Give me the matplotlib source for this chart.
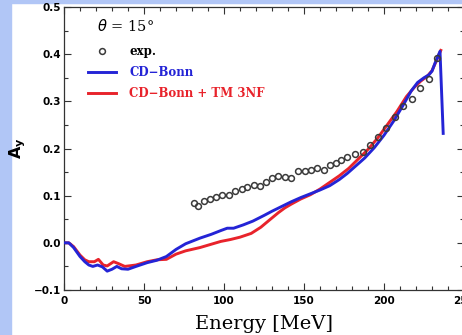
import matplotlib
matplotlib.use("Agg")
import matplotlib.pyplot as plt
from matplotlib.patches import Rectangle
from matplotlib.ticker import MultipleLocator

# experimental points (energy in MeV, A_y)
exp_e = [81.5, 83.5, 87.5, 91, 95, 99, 103, 107, 111, 114.5, 118.5, 122.5,
         126.5, 130, 134, 138, 142, 146.5, 150.5, 154.5, 158, 162.5, 166.5,
         170, 173, 177, 182, 187, 191, 196.5, 201.5, 207, 212, 217.5, 222.5,
         228, 233]
exp_ay = [0.085, 0.078, 0.088, 0.093, 0.097, 0.101, 0.102, 0.110, 0.114,
          0.119, 0.123, 0.120, 0.130, 0.138, 0.142, 0.140, 0.138, 0.153,
          0.152, 0.155, 0.158, 0.155, 0.164, 0.170, 0.176, 0.181, 0.189,
          0.193, 0.208, 0.225, 0.243, 0.266, 0.290, 0.306, 0.328, 0.347,
          0.391]

# CD-Bonn
cdb_e = [0, 3, 6, 10, 13, 15.5, 18, 21, 24, 27, 30, 33, 36, 40, 45, 52, 58,
         64, 70, 76, 85, 92, 98, 102, 106, 112, 118, 125, 130, 136, 142, 148,
         154, 160, 166, 172, 177, 182, 188, 194, 200, 206, 212, 217, 221, 225,
         228, 230, 232, 235, 237]
cdb_ay = [0.0, 0.0, -0.01, -0.029, -0.040, -0.047, -0.050, -0.047, -0.051,
          -0.060, -0.056, -0.050, -0.055, -0.056, -0.050, -0.042, -0.037,
          -0.029, -0.014, -0.002, 0.010, 0.018, 0.026, 0.031, 0.031, 0.038,
          0.046, 0.058, 0.067, 0.077, 0.087, 0.096, 0.104, 0.112, 0.121,
          0.134, 0.147, 0.162, 0.180, 0.202, 0.228, 0.258, 0.292, 0.322,
          0.340, 0.350, 0.356, 0.364, 0.382, 0.406, 0.232]

# CD-Bonn + TM 3NF
tm_e = [0, 3, 6, 10, 13, 15.5, 19, 21.5, 24.5, 27, 31, 34, 38, 45, 52, 58,
        64, 70, 76, 85, 92, 98, 104, 110, 117, 123, 129, 134, 138, 142, 148,
        154, 160, 166, 172, 178, 184, 190, 196, 202, 208, 214, 219, 223, 227,
        230, 233, 235.5]
tm_ay = [0.0, 0.0, -0.008, -0.026, -0.036, -0.040, -0.040, -0.035, -0.047,
         -0.049, -0.040, -0.044, -0.050, -0.047, -0.040, -0.036, -0.035,
         -0.024, -0.017, -0.010, -0.003, 0.003, 0.007, 0.012, 0.020, 0.033,
         0.050, 0.064, 0.074, 0.082, 0.093, 0.102, 0.114, 0.128, 0.142,
         0.158, 0.178, 0.198, 0.222, 0.250, 0.278, 0.310, 0.330, 0.343,
         0.353, 0.365, 0.388, 0.408]

fig = plt.figure(figsize=(4.62, 3.35), dpi=100, facecolor="white")
# light blue frame of the slide
fig.patches.append(Rectangle((0, 0), 11 / 462, 1, transform=fig.transFigure,
                             color="#b1c6f6", zorder=-5))
fig.patches.append(Rectangle((0, 1 - 3 / 335), 1, 3 / 335,
                             transform=fig.transFigure, color="#b1c6f6",
                             zorder=-5))

ax = fig.add_axes([64 / 462, 45 / 335, 400 / 462, 283 / 335])

ax.plot(tm_e, tm_ay, color="#e8232b", lw=2.1, label="CD\u2212Bonn + TM 3NF",
        zorder=2)
ax.plot(cdb_e, cdb_ay, color="#2424d6", lw=2.1, label="CD\u2212Bonn",
        zorder=3)
ax.plot(exp_e, exp_ay, ls="none", marker="o", ms=4.2, mfc="none",
        mec="#3a3a3a", mew=1.1, label="exp.", zorder=4)

ax.set_xlim(0, 250)
ax.set_ylim(-0.1, 0.5)
ax.xaxis.set_major_locator(MultipleLocator(50))
ax.xaxis.set_minor_locator(MultipleLocator(10))
ax.yaxis.set_major_locator(MultipleLocator(0.1))
ax.yaxis.set_minor_locator(MultipleLocator(0.05))
ax.yaxis.set_major_formatter(lambda v, p: f"{v:.1f}".replace("-", "\u2212"))
ax.tick_params(which="both", direction="in", top=True, right=True,
               width=0.8, colors="#333333", labelcolor="black")
ax.tick_params(which="major", length=5, labelsize=7.5)
ax.tick_params(axis="x", which="major", pad=4)
ax.tick_params(axis="y", which="major", pad=2)
ax.tick_params(which="minor", length=3)
for lab in ax.get_xticklabels() + ax.get_yticklabels():
    lab.set_fontweight("bold")
for s in ax.spines.values():
    s.set_linewidth(0.9)
    s.set_color("#333333")

ax.set_xlabel("Energy [MeV]", family="DejaVu Serif", fontsize=14,
              labelpad=7)
ax.set_ylabel(r"$\mathbf{A_y}$", family="DejaVu Serif", fontsize=11.5)
ax.yaxis.set_label_coords(-0.09, 0.5)

ax.text(0.083, 0.933, r"$\theta$ = 15°", transform=ax.transAxes,
        family="DejaVu Serif", fontsize=10.5, va="center")

handles, labels = ax.get_legend_handles_labels()
order = [2, 1, 0]
leg = ax.legend([handles[i] for i in order], [labels[i] for i in order],
                loc="upper left", bbox_to_anchor=(0.045, 0.885), frameon=False,
                prop={"family": "DejaVu Serif", "size": 8.5, "weight": "bold"},
                handlelength=2.4, handletextpad=1.1, labelspacing=0.65,
                borderpad=0)
for txt, col in zip(leg.get_texts(), ["black", "#2424d6", "#e8232b"]):
    txt.set_color(col)

fig.savefig("out.png", dpi=100, facecolor=fig.get_facecolor())
